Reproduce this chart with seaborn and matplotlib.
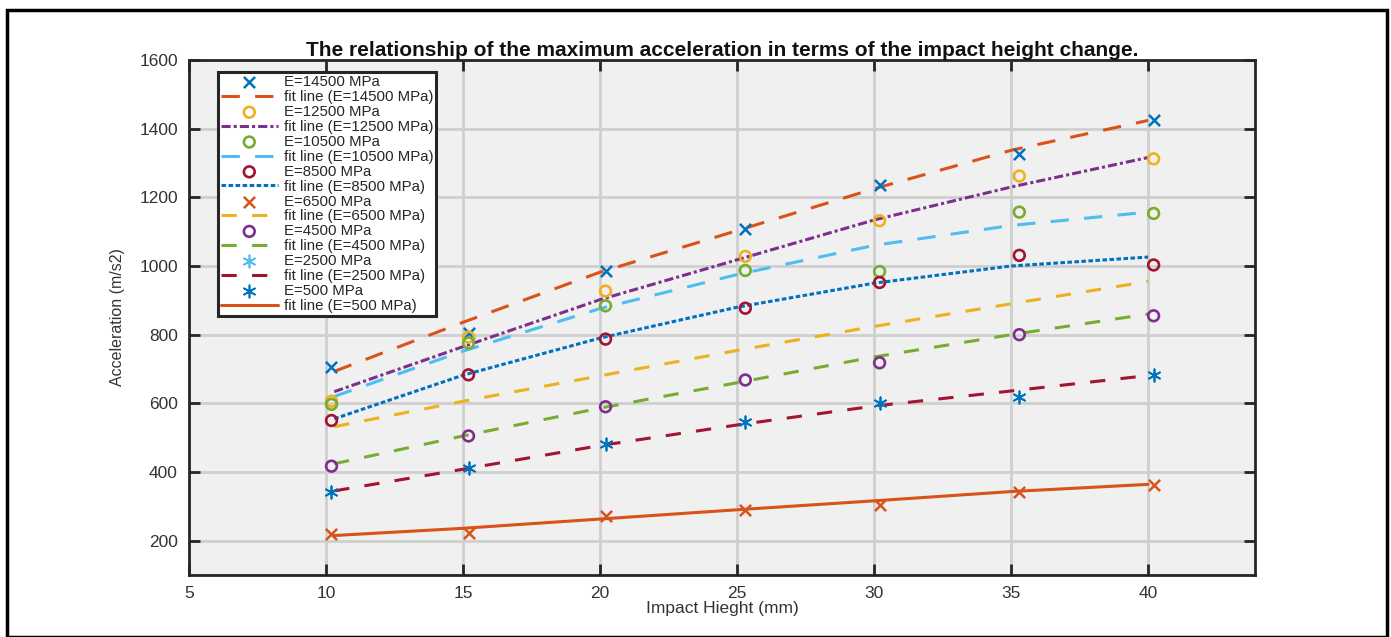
import matplotlib
matplotlib.use("Agg")
import matplotlib.pyplot as plt
import seaborn as sns
import pandas as pd
from matplotlib.patches import Rectangle

# ---- data ----
x_pts = [10.2, 15.2, 20.2, 25.3, 30.2, 35.3, 40.2]
x_fit = [10.3, 15, 20, 25, 30, 35, 40]

pts_14500 = [705, 805, 986, 1107, 1235, 1325, 1425]
fit_14500 = [693, 836, 982, 1103, 1225, 1337, 1424]
pts_12500 = [606, 793, 927, 1028, 1132, 1262, 1312]
fit_12500 = [634, 765, 902, 1018, 1134, 1230, 1316]
pts_10500 = [597, 776, 884, 987, 984, 1157, 1153]
fit_10500 = [620, 752, 876, 975, 1060, 1118, 1157]
pts_8500 = [550, 683, 787, 877, 952, 1031, 1003]
fit_8500 = [555, 682, 790, 880, 950, 1000, 1026]
pts_6500 = [218, 222, 272, 290, 305, 342, 361]
fit_6500 = [532, 606, 680, 754, 824, 890, 955]
pts_4500 = [417, 505, 590, 668, 718, 800, 855]
fit_4500 = [424, 505, 586, 660, 735, 800, 860]
pts_2500 = [341, 412, 481, 545, 602, 618, 683]
fit_2500 = [345, 408, 477, 537, 592, 636, 681]
pts_500 = [341, 412, 481, 545, 602, 618, 683]
fit_500 = [215, 236, 263, 290, 316, 343, 364]

labels_E = ["14500", "12500", "10500", "8500", "6500", "4500", "2500", "500"]

C_BLUE = "#0072BD"
C_ORANGE = "#D95319"
C_YELLOW = "#EDB120"
C_PURPLE = "#7E2F8E"
C_GREEN = "#77AC30"
C_LBLUE = "#4DBEEE"
C_RED = "#A2142F"

series = [
    # (points, fit, marker, marker color, fit color, fit dashes)
    (pts_14500, fit_14500, "x", C_BLUE, C_ORANGE, (6, 5)),
    (pts_12500, fit_12500, "o", C_YELLOW, C_PURPLE, (3, 1, 1, 1)),
    (pts_10500, fit_10500, "o", C_GREEN, C_LBLUE, (6, 5)),
    (pts_8500, fit_8500, "o", C_RED, C_BLUE, (1.5, 0.8)),
    (pts_6500, fit_6500, "x", C_ORANGE, C_YELLOW, (5, 5)),
    (pts_4500, fit_4500, "o", C_PURPLE, C_GREEN, (5, 5)),
    (pts_2500, fit_2500, "*", C_LBLUE, C_RED, (5, 5)),
    (pts_500, fit_500, "*", C_BLUE, C_ORANGE, None),
]

sns.set_theme(style="white")
plt.rcParams["font.family"] = ["Liberation Sans", "DejaVu Sans"]

fig = plt.figure(figsize=(13.91, 6.37), dpi=100)
W, H = 1391, 637
L, R, T, B = 189, 1255, 60, 575
ax = fig.add_axes([L / W, 1 - B / H, (R - L) / W, (B - T) / H])
ax.set_facecolor("#F0F0F0")

for (pts, fit, mk, mc, fc, dash), lab in zip(series, labels_E):
    df_p = pd.DataFrame({"x": x_pts, "y": pts})
    df_f = pd.DataFrame({"x": x_fit, "y": fit})
    if mk == "o":
        sns.scatterplot(data=df_p, x="x", y="y", ax=ax, marker="o", s=60,
                        facecolors="none", edgecolor=mc, linewidth=1.9,
                        label=f"E={lab} MPa", zorder=4)
    elif mk == "x":
        sns.scatterplot(data=df_p, x="x", y="y", ax=ax, marker="x", s=65,
                        color=mc, linewidth=1.8, label=f"E={lab} MPa", zorder=4)
    else:
        sns.scatterplot(data=df_p, x="x", y="y", ax=ax, marker=(6, 2, 0), s=80,
                        color=mc, edgecolor=mc, linewidth=1.2,
                        label=f"E={lab} MPa", zorder=4)
    sns.lineplot(data=df_f, x="x", y="y", ax=ax, color=fc, linewidth=2.2,
                 label=f"fit line (E={lab} MPa)", zorder=3)
    line = ax.get_lines()[-1]
    if dash is not None:
        line.set_dashes(dash)

ax.set_xlim(5, 43.9)
ax.set_ylim(100, 1600)
ax.set_xticks([5, 10, 15, 20, 25, 30, 35, 40])
ax.set_yticks([200, 400, 600, 800, 1000, 1200, 1400, 1600])
ax.grid(True, color="#CFCFCF", linewidth=2.0)
ax.set_axisbelow(True)
for s in ax.spines.values():
    s.set_color("#262626")
    s.set_linewidth(2.0)
ax.tick_params(axis="both", which="both", direction="in", length=8, width=2,
               color="#262626", labelsize=12.5, labelcolor="#333333",
               top=True, right=True, bottom=True, left=True, pad=8)

ax.set_title("The relationship of the maximum acceleration in terms of the impact height change.",
             fontsize=15, fontweight="bold", pad=3, color="#111111")
ax.set_xlabel("Impact Hieght (mm)", fontsize=12.5, color="#333333", labelpad=0)
ax.set_ylabel("Acceleration (m/s2)", fontsize=11.5, color="#333333", labelpad=10)

leg = ax.legend(loc="upper left", bbox_to_anchor=(0.027, 0.976), fontsize=10.8,
                frameon=True, fancybox=False, framealpha=1, facecolor="white",
                edgecolor="#262626", handlelength=3.8, handletextpad=0.4,
                labelspacing=0.06, borderpad=0.2, borderaxespad=0)
leg.get_frame().set_linewidth(2.2)

fig.patches.append(Rectangle((7 / W, 0.0), (1387 - 7) / W, 1 - 10 / H, transform=fig.transFigure,
                             fill=False, edgecolor="black", linewidth=2.5))

fig.savefig("out.png", dpi=100, facecolor="white")
